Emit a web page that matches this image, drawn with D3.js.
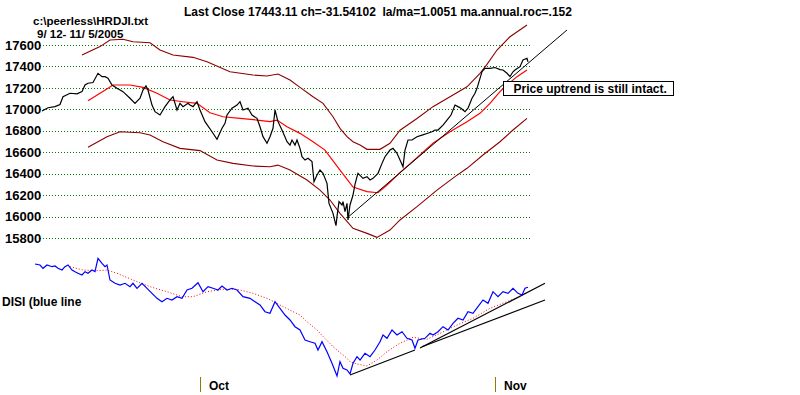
<!DOCTYPE html>
<html>
<head>
<meta charset="utf-8">
<script src="https://cdn.jsdelivr.net/npm/d3@7"></script>
<style>
  html, body { margin: 0; padding: 0; background: #fff; }
  svg { display: block; font-family: "Liberation Sans", Arial, sans-serif; font-weight: bold; }
</style>
</head>
<body>
<svg id="chart" width="800" height="395"></svg>
<script>
// Peerless-style DJI chart: price with MA and bands on top, DISI on the bottom.
// x is a session index; both panels share it.

const TITLE = "Last Close 17443.11 ch=-31.54102  la/ma=1.0051 ma.annual.roc=.152";
const FILE_LABEL = "c:\\peerless\\HRDJI.txt";
const DATE_RANGE = "9/ 12- 11/ 5/2005";
const NOTE = "Price uptrend is still intact.";
const DISI_LABEL = "DISI (blue line";

const Y_TICKS = [15800, 16000, 16200, 16400, 16600, 16800, 17000, 17200, 17400, 17600];
const MONTHS = [
  { t: 170, label: "Oct" },
  { t: 465, label: "Nov" },
];

// closing prices [session, value]
const PRICE = [
  [12,16985],[18,17015],[25,17025],[30,17045],[33,17118],[40,17150],[47,17145],[52,17165],
  [55,17227],[58,17243],[63,17250],[68,17336],[72,17305],[75,17305],[78,17290],[82,17227],
  [87,17196],[93,17165],[100,17103],[105,17056],[110,17103],[113,17180],[116,17218],[118,17180],
  [122,17040],[125,16978],[130,16947],[135,17025],[140,17087],[143,17118],[147,16994],[150,17056],
  [153,17025],[158,17056],[160,17040],[163,17025],[167,17071],[170,16994],[175,16885],[182,16791],
  [187,16720],[192,16823],[195,16870],[197,16947],[202,17010],[207,17040],[210,17071],[213,16994],
  [218,17010],[222,16947],[227,16916],[230,16838],[233,16745],[237,16683],[240,16745],[243,16823],
  [245,16994],[248,16885],[252,16807],[257,16698],[260,16667],[262,16714],[265,16667],[267,16714],
  [270,16636],[272,16558],[275,16527],[278,16543],[282,16512],[284,16325],[287,16387],[290,16434],
  [293,16403],[297,16310],[299,16123],[303,16030],[306,15915],[307,15999],[309,16139],[312,16108],
  [313,16139],[315,16045],[317,16123],[318,15968],[320,16108],[323,16200],[325,16300],[327,16372],
  [328,16403],[333,16356],[337,16372],[340,16341],[343,16356],[348,16403],[352,16496],[355,16558],
  [360,16620],[363,16636],[367,16590],[370,16527],[373,16465],[375,16620],[378,16714],[382,16714],
  [387,16745],[392,16760],[397,16775],[402,16791],[405,16807],[408,16807],[413,16853],[417,16900],
  [421,16947],[425,17040],[428,17025],[431,17010],[435,16978],[438,17010],[442,17103],[445,17150],
  [447,17196],[450,17289],[452,17351],[455,17382],[460,17382],[465,17390],[470,17370],[473,17367],
  [477,17336],[480,17305],[483,17350],[485,17367],[490,17398],[493,17460],[497,17476],[498,17443],
];

// moving average (bright red)
const MA = [
  [58,17080],[78,17196],[83,17227],[100,17227],[113,17205],[127,17150],[140,17087],[153,17071],
  [167,17056],[180,16968],[193,16931],[210,16916],[227,16900],[240,16885],[247,16900],[257,16838],
  [270,16776],[283,16698],[295,16620],[310,16434],[323,16275],[337,16232],[348,16222],[357,16294],
  [370,16410],[390,16575],[403,16683],[420,16791],[437,16885],[450,16963],[460,17056],[470,17165],
  [477,17227],[487,17305],[497,17367],
];

// upper and lower bands (dark red)
const UPPER = [
  [52,17507],[70,17585],[80,17647],[93,17653],[103,17631],[120,17621],[130,17553],[143,17507],
  [163,17485],[177,17444],[200,17351],[223,17320],[237,17311],[248,17329],[260,17273],[270,17205],
  [283,17118],[293,17056],[303,16931],[310,16823],[317,16745],[323,16698],[330,16667],[337,16627],
  [350,16627],[360,16683],[370,16805],[387,16915],[403,17025],[420,17118],[437,17210],[450,17336],
  [457,17420],[467,17553],[480,17677],[497,17786],
];
const LOWER = [
  [58,16646],[77,16745],[90,16791],[110,16782],[120,16760],[133,16698],[150,16636],[170,16615],
  [187,16527],[203,16496],[223,16471],[240,16465],[248,16480],[260,16434],[277,16341],[290,16247],
  [300,16154],[310,16030],[323,15890],[337,15843],[347,15806],[360,15874],[370,15968],[387,16092],
  [407,16247],[425,16372],[437,16450],[453,16574],[470,16698],[483,16807],[497,16916],
];

// price uptrend line
const PRICE_TREND = [[317,15986],[537,17740]];

// DISI (blue) and its moving average (red dotted)
const DISI = [
  [5,116],[10,115],[13,111.7],[17,115],[22,113.3],[25,114],[28,111.7],[32,110],[35,113.3],[38,115],
  [42,110],[45,108.3],[48,106.7],[52,105],[55,108.3],[58,106.7],[62,110],[65,108.3],[68,121.7],
  [72,116.7],[75,113.3],[77,115],[80,100],[85,96.7],[90,95],[95,96.7],[100,93.3],[103,96.7],
  [107,91.7],[112,96.7],[117,91.7],[122,86.7],[127,81.7],[132,78.3],[137,81.7],[142,80],[147,83.3],
  [152,81.7],[157,90],[162,91.7],[168,97.3],[173,88.3],[178,93.3],[183,91.7],[188,90],[192,94],
  [197,90],[202,91.7],[207,90],[213,83.3],[220,81.7],[225,78.3],[230,75],[235,68.3],[240,66.7],
  [245,78.3],[250,71.7],[255,65],[260,60],[265,53.3],[270,50],[275,40],[280,38.3],[285,36.7],
  [288,30],[292,38.3],[297,28.3],[302,16.7],[307,4],[310,18.3],[313,11.7],[317,10],[320,6],
  [323,16.7],[327,23.3],[330,20],[335,26.7],[340,23.3],[345,30],[350,38.3],[353,45],[357,41.7],
  [362,50],[367,45],[372,48.3],[377,41.7],[382,40],[385,31.7],[388,40],[395,41.7],[400,46.7],
  [403,45],[408,48.3],[413,53.3],[418,50],[423,56.7],[428,61.7],[433,60],[438,68.3],[443,66.7],
  [448,73.3],[453,80],[458,76.7],[463,88.3],[468,83.3],[473,88.3],[478,86.7],[483,91.7],[488,86.7],
  [492,85],[495,91.7],[498,92.7],
];
const DISI_MA = [
  [40,113.3],[53,110],[67,109.3],[77,110],[87,106.7],[103,100],[120,93.3],[137,88.3],[152,83.3],
  [163,83.3],[177,88.3],[193,90.7],[207,90.7],[223,86.7],[237,81.7],[250,75],[263,68.3],[270,65],
  [277,58.3],[287,50],[290,46.7],[303,33.3],[317,21.7],[320,18.3],[327,16],[337,14],[347,20],
  [357,28.3],[367,35],[370,36.7],[383,42.7],[397,40.7],[410,46.7],[427,55],[443,61.7],[460,71.7],
  [477,78.3],[490,83.3],[495,86.7],
];
// DISI trendlines
const DISI_TRENDS = [
  [[320,5],[385,30]],
  [[390,32],[515,96.7]],
  [[392,33.3],[515,80]],
];

const svg = d3.select("#chart");

const x = d3.scaleLinear().domain([0, 510]).range([30, 540]);
const y = d3.scaleLinear().domain([15800, 17600]).range([238, 45]);
const yd = d3.scaleLinear().domain([0, 130]).range([380, 250]);

const line = (ys) => d3.line().x((d) => x(d[0])).y((d) => ys(d[1]));

// dotted green grid + value labels
Y_TICKS.forEach((v) => {
  svg.append("line")
    .attr("x1", 40).attr("x2", 530)
    .attr("y1", Math.round(y(v)) + 0.5).attr("y2", Math.round(y(v)) + 0.5)
    .attr("stroke", "#008000").attr("stroke-dasharray", "1,2");
  svg.append("text")
    .attr("x", 5).attr("y", y(v)).attr("dy", "0.36em")
    .style("font-size", "13px").text(v);
});

// bands, MA, price, trend
[UPPER, LOWER].forEach((band) => {
  svg.append("path").datum(band)
    .attr("fill", "none").attr("stroke", "#8b0000").attr("stroke-width", 1.1)
    .attr("d", line(y));
});
svg.append("path").datum(MA)
  .attr("fill", "none").attr("stroke", "#ff0000").attr("stroke-width", 1.2)
  .attr("d", line(y));
svg.append("path").datum(PRICE_TREND)
  .attr("fill", "none").attr("stroke", "#000").attr("stroke-width", 1)
  .attr("d", line(y));
svg.append("path").datum(PRICE)
  .attr("fill", "none").attr("stroke", "#000").attr("stroke-width", 1.2)
  .attr("d", line(y));

// DISI panel
svg.append("path").datum(DISI_MA)
  .attr("fill", "none").attr("stroke", "#ff0000").attr("stroke-width", 1)
  .attr("stroke-dasharray", "1,2")
  .attr("d", line(yd));
DISI_TRENDS.forEach((seg) => {
  svg.append("path").datum(seg)
    .attr("fill", "none").attr("stroke", "#000").attr("stroke-width", 1.2)
    .attr("d", line(yd));
});
svg.append("path").datum(DISI)
  .attr("fill", "none").attr("stroke", "#0000ff").attr("stroke-width", 1.2)
  .attr("d", line(yd));

// month markers
MONTHS.forEach((m) => {
  svg.append("line")
    .attr("x1", x(m.t) + 0.5).attr("x2", x(m.t) + 0.5)
    .attr("y1", 377).attr("y2", 392)
    .attr("stroke", "#8b7d00").attr("stroke-width", 1);
  svg.append("text")
    .attr("x", x(m.t) + 9).attr("y", 390)
    .style("font-size", "12px").text(m.label);
});

// texts (file name and date range sit tight, as in the original)
svg.append("text").attr("x", 184).attr("y", 16).style("font-size", "12px")
  .attr("xml:space", "preserve").text(TITLE);
svg.append("text").attr("x", 33).attr("y", 25).style("font-size", "11.5px").text(FILE_LABEL);
svg.append("text").attr("x", 37).attr("y", 38).style("font-size", "11.5px")
  .attr("xml:space", "preserve").text(DATE_RANGE);
svg.append("text").attr("x", 2).attr("y", 302).attr("dy", "0.36em")
  .style("font-size", "12px").text(DISI_LABEL);

// annotation box
const note = svg.append("g").attr("transform", "translate(503.5,81.5)");
note.append("rect").attr("width", 170).attr("height", 14)
  .attr("fill", "#fff").attr("stroke", "#000").attr("stroke-width", 1);
note.append("text").attr("x", 10).attr("y", 11.5).style("font-size", "12px").text(NOTE);
</script>
</body>
</html>
